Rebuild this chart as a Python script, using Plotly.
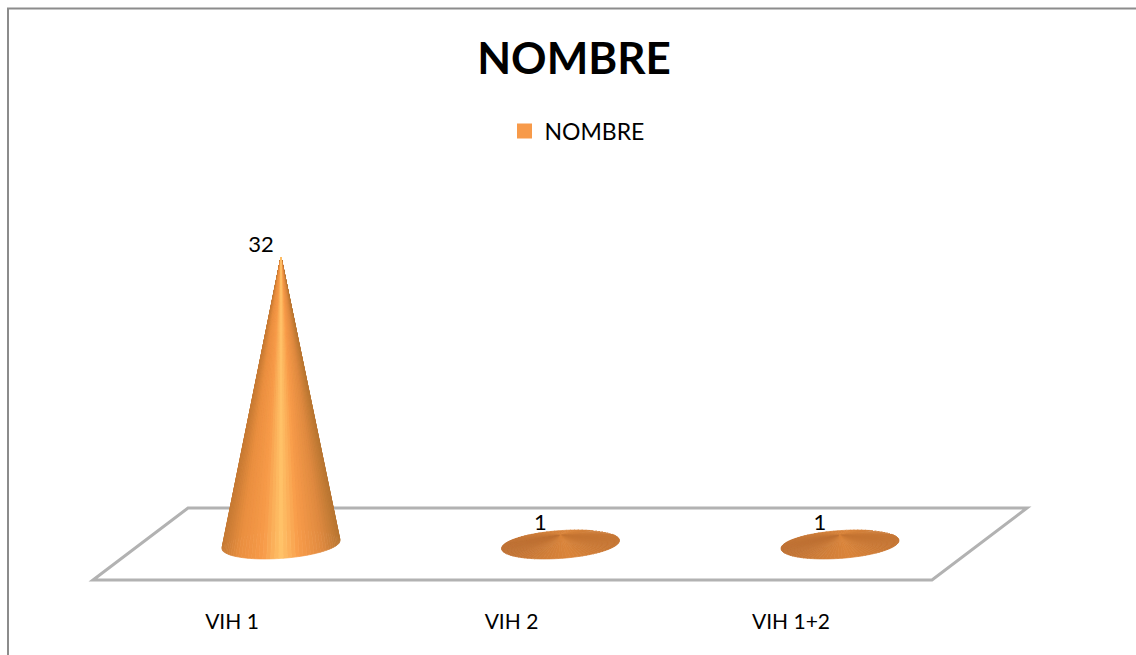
import numpy as np
import plotly.graph_objects as go

# Chart data
categories = ["VIH 1", "VIH 2", "VIH 1+2"]
values = [32, 1, 1]
series_name = "NOMBRE"
chart_title = "NOMBRE"

# Page and axis scale (pixels)
W, H = 1136, 655
PLOT_BOTTOM = 607
CENTER0_PX, CAT_PX = 281.0, 279.5
BASE_PX, UNIT_PX = 544.5, 8.98

# Cone base ellipse, in axis units
BASE_A = 59 / CAT_PX
BASE_B = 13.9 / UNIT_PX
BASE_TILT = 4 / UNIT_PX

# Shading stops along the base: position across the cone (-1..1) and RGB
TALL_STOPS = [(-1, (198, 122, 52)), (-0.7, (234, 143, 64)), (-0.3, (247, 155, 73)),
              (0, (255, 194, 104)), (0.3, (248, 156, 74)), (0.7, (224, 138, 64)), (1, (184, 118, 50))]
FLAT_STOPS = [(-1, (190, 112, 50)), (-0.3, (208, 126, 56)), (0.15, (218, 132, 58)),
              (0.6, (206, 124, 54)), (1, (196, 116, 50))]


def shade(u, stops):
    xs = [s[0] for s in stops]
    rgb = [np.interp(u, xs, [s[1][k] for s in stops]) for k in range(3)]
    return "rgb(%d,%d,%d)" % tuple(int(round(c)) for c in rgb)


def cone_traces(center, height):
    """Triangles fanned from the apex to the base ellipse, back half first."""
    tall = height > BASE_B
    stops = TALL_STOPS if tall else FLAT_STOPS
    n = 90
    t = np.linspace(0, 2 * np.pi, n + 1)
    order = sorted(range(n), key=lambda k: -np.sin((t[k] + t[k + 1]) / 2))
    out = []
    for k in order:
        xs, ys = [center], [height]
        for a in (t[k], t[k + 1]):
            xs.append(center + BASE_A * np.cos(a))
            ys.append(BASE_B * np.sin(a) + BASE_TILT * np.cos(a))
        xs.append(center)
        ys.append(height)
        col = shade(np.cos((t[k] + t[k + 1]) / 2), stops)
        out.append(go.Scatter(x=xs, y=ys, mode="lines", fill="toself", fillcolor=col,
                              line=dict(color=col, width=0.7), hoverinfo="skip",
                              showlegend=False))
    return out


fig = go.Figure()
positions = list(range(len(categories)))
for pos, val in zip(positions, values):
    fig.add_traces(cone_traces(pos, val))

# Legend entry for the series
fig.add_trace(go.Scatter(x=[None], y=[None], mode="markers", name=series_name,
                         marker=dict(symbol="square", size=15, color="#F79A4A"),
                         showlegend=True))

# Value labels sit up and to the left of each apex
fig.add_trace(go.Scatter(x=[p - 20 / CAT_PX for p in positions],
                         y=[v + 11 / UNIT_PX for v in values],
                         text=[str(v) for v in values], mode="text",
                         textposition="middle center",
                         textfont=dict(family="Lato", size=22, color="#000000"),
                         hoverinfo="skip", showlegend=False))


def px_x(x):
    return x / W


def px_y(y):
    return 1 - y / PLOT_BOTTOM


def path(points):
    return "M " + " L ".join(f"{px_x(x):.5f},{px_y(y):.5f}" for x, y in points)


# Chart-area border, open at the right and bottom of the page
border = path([(8, 655), (8, 8.5), (1136, 8.5)])
# Perspective floor
floor = path([(93, 580), (188, 508), (1027, 508), (932, 580)]) + " Z"

fig.update_layout(
    width=W, height=H, autosize=False,
    margin=dict(l=0, r=0, t=0, b=H - PLOT_BOTTOM, autoexpand=False),
    paper_bgcolor="white", plot_bgcolor="white",
    font=dict(family="Lato", color="#000000"),
    title=dict(text=f"<b>{chart_title}</b>", x=574 / W, xref="paper", xanchor="center",
               y=1 - 59 / H, yref="container", yanchor="middle",
               font=dict(family="Lato", size=44, color="#000000")),
    legend=dict(orientation="h", x=577 / W, xanchor="center", y=1 - 131 / PLOT_BOTTOM,
                yanchor="middle", font=dict(family="Lato", size=23, color="#000000"),
                bgcolor="rgba(0,0,0,0)"),
    xaxis=dict(range=[-CENTER0_PX / CAT_PX, (W - CENTER0_PX) / CAT_PX], showgrid=False,
               zeroline=False, showline=False, ticks="",
               tickmode="array", tickvals=[p - 49 / CAT_PX for p in positions],
               ticktext=categories, tickfont=dict(family="Lato", size=21, color="#000000")),
    yaxis=dict(range=[(BASE_PX - PLOT_BOTTOM) / UNIT_PX, BASE_PX / UNIT_PX], showgrid=False,
               zeroline=False, showline=False, showticklabels=False, ticks=""),
    shapes=[
        dict(type="path", path=floor, xref="paper", yref="paper", layer="below",
             line=dict(color="#B2B2B2", width=3)),
        dict(type="path", path=border, xref="paper", yref="paper", layer="below",
             line=dict(color="#8C8C8C", width=2)),
    ],
)

fig.write_html("out.html", config=dict(displayModeBar=False))
